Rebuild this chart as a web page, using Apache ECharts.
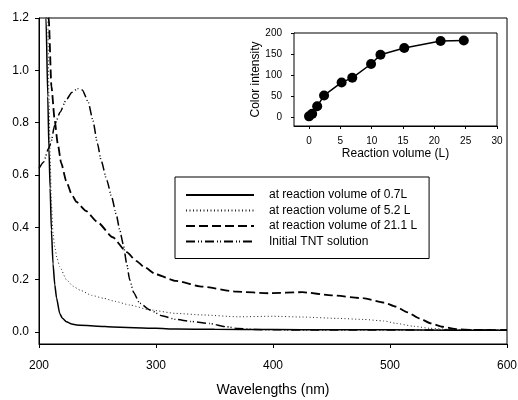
<!DOCTYPE html>
<html>
<head>
<meta charset="utf-8">
<script src="https://cdn.jsdelivr.net/npm/echarts@6/dist/echarts.min.js"></script>
<style>
  html, body { margin: 0; padding: 0; background: #fff; }
  #chart { width: 518px; height: 400px; }
</style>
</head>
<body>
<div id="chart"></div>
<script>
// main spectra: [wavelength nm, absorbance]
const vol07 = [[204, 1.6], [206, 1.2], [207.5, 0.9], [208.5, 0.7], [209.5, 0.55], [210.6, 0.39], [212, 0.26], [213.5, 0.18], [215, 0.13], [217.7, 0.071], [220, 0.052], [223.4, 0.039], [228, 0.03], [232, 0.027], [250, 0.022], [263, 0.019], [300, 0.014], [317, 0.011], [350, 0.01], [400, 0.009], [450, 0.008], [500, 0.008], [550, 0.007], [600, 0.007]];
const vol52 = [[205, 1.6], [207.5, 1.2], [208.5, 0.9], [209.5, 0.68], [210.6, 0.49], [212, 0.377], [213.4, 0.326], [215.5, 0.28], [217.7, 0.25], [223.4, 0.2], [229, 0.175], [235, 0.16], [245, 0.14], [255, 0.129], [265, 0.117], [277.5, 0.103], [295, 0.084], [317, 0.071], [340, 0.065], [370, 0.058], [400, 0.06], [425, 0.057], [455, 0.052], [477, 0.048], [495, 0.042], [505, 0.033], [520, 0.022], [534, 0.014], [550, 0.01], [562, 0.008], [600, 0.007]];
const vol211 = [[206.5, 1.6], [208.3, 1.2], [210.6, 0.94], [213.4, 0.81], [216, 0.72], [219, 0.645], [223.4, 0.575], [228, 0.525], [232, 0.497], [240, 0.463], [250, 0.42], [263, 0.362], [275, 0.305], [283, 0.272], [290, 0.248], [300, 0.22], [317, 0.195], [340, 0.173], [369, 0.154], [397, 0.148], [425, 0.152], [450, 0.14], [477, 0.129], [495, 0.112], [505, 0.097], [515, 0.075], [525, 0.052], [535, 0.033], [545, 0.02], [558, 0.01], [570, 0.008], [600, 0.007]];
const tntInitial = [[200, 0.625], [204, 0.65], [208, 0.7], [210, 0.72], [213.4, 0.79], [218, 0.84], [223, 0.885], [228, 0.915], [233, 0.93], [237, 0.925], [242, 0.88], [246, 0.81], [250, 0.72], [253, 0.657], [258, 0.58], [262, 0.517], [266, 0.45], [269, 0.39], [272, 0.335], [275, 0.26], [277.5, 0.2], [281, 0.15], [286, 0.11], [295, 0.084], [305, 0.062], [317, 0.048], [330, 0.04], [346, 0.032], [360, 0.02], [370, 0.013], [385, 0.009], [400, 0.008], [600, 0.007]];

// inset: color intensity vs reaction volume
const insetVolume = [0, 0.5, 1.3, 2.4, 5.2, 6.9, 9.9, 11.4, 15.2, 21.0, 24.7];
const insetIntensity = [1, 7, 25, 51, 82, 93, 126, 148, 164, 181, 182];

const yTicks = [0, 0.2, 0.4, 0.6, 0.8, 1.0, 1.2];
const insetXTicks = [0, 5, 10, 15, 20, 25, 30];
const insetYTicks = [0, 50, 100, 150, 200];

const font = 'Liberation Sans, Arial, sans-serif';
const chart = echarts.init(document.getElementById('chart'));

const axisCommon = {
  axisLine: { onZero: false, lineStyle: { color: '#000', width: 1 } },
  axisTick: { inside: false, length: 4, lineStyle: { color: '#000' } },
  splitLine: { show: false }
};

chart.setOption({
  animation: false,
  backgroundColor: '#fff',
  grid: [
    { left: 39, top: 18, right: 11, bottom: 56, outerBoundsMode: 'none', show: true, borderColor: '#000', borderWidth: 1, backgroundColor: '#fff' },
    { left: 294, top: 33, width: 203, height: 93, outerBoundsMode: 'none', show: true, borderColor: '#000', borderWidth: 1, backgroundColor: '#fff', z: 5 }
  ],
  legend: {
    data: ['at reaction volume of 0.7L', 'at reaction volume of 5.2 L', 'at reaction volume of 21.1 L', 'Initial TNT solution'],
    orient: 'vertical',
    left: 175,
    top: 177,
    padding: [12, 12, 11, 10],
    itemWidth: 68,
    itemHeight: 10,
    itemGap: 3.5,
    borderColor: '#000',
    borderWidth: 1,
    backgroundColor: '#fff',
    itemStyle: { opacity: 0 },
    textStyle: { fontFamily: font, fontSize: 12, color: '#000', padding: [0, 0, 0, 10] }
  },
  xAxis: [
    Object.assign({}, axisCommon, {
      gridIndex: 0, type: 'value', min: 200, max: 600, interval: 100,
      name: 'Wavelengths (nm)', nameLocation: 'middle', nameGap: 39,
      nameTextStyle: { fontFamily: font, fontSize: 14, color: '#000' },
      axisLabel: { fontFamily: font, fontSize: 12, color: '#000', margin: 16 }
    }),
    Object.assign({}, axisCommon, {
      gridIndex: 1, type: 'value', min: -2.4, max: 30,
      name: 'Reaction volume (L)', nameLocation: 'middle', nameGap: 22,
      nameTextStyle: { fontFamily: font, fontSize: 12, color: '#000' },
      axisTick: { length: 3, lineStyle: { color: '#000' }, customValues: insetXTicks },
      axisLabel: { fontFamily: font, fontSize: 10, color: '#000', margin: 10, customValues: insetXTicks }
    })
  ],
  yAxis: [
    Object.assign({}, axisCommon, {
      gridIndex: 0, type: 'value', min: -0.046, max: 1.2,
      axisTick: { length: 4, lineStyle: { color: '#000' }, customValues: yTicks },
      axisLabel: { fontFamily: font, fontSize: 12, color: '#000', margin: 10, customValues: yTicks, formatter: v => v.toFixed(1) }
    }),
    Object.assign({}, axisCommon, {
      gridIndex: 1, type: 'value', min: -22, max: 200,
      name: 'Color intensity', nameLocation: 'middle', nameGap: 28,
      nameTextStyle: { fontFamily: font, fontSize: 12, color: '#000' },
      axisTick: { length: 3, lineStyle: { color: '#000' }, customValues: insetYTicks },
      axisLabel: { fontFamily: font, fontSize: 10, color: '#000', margin: 12, customValues: insetYTicks }
    })
  ],
  series: [
    {
      name: 'at reaction volume of 0.7L', type: 'line', xAxisIndex: 0, yAxisIndex: 0,
      data: vol07, symbol: 'none', smooth: 0.2, smoothMonotone: 'x',
      itemStyle: { color: '#000' },
      lineStyle: { color: '#000', width: 1.5, type: 'solid' }
    },
    {
      name: 'at reaction volume of 5.2 L', type: 'line', xAxisIndex: 0, yAxisIndex: 0,
      data: vol52, symbol: 'none', smooth: 0.2, smoothMonotone: 'x',
      itemStyle: { color: '#000' },
      lineStyle: { color: '#222', width: 1, type: [1, 2.5] }
    },
    {
      name: 'at reaction volume of 21.1 L', type: 'line', xAxisIndex: 0, yAxisIndex: 0,
      data: vol211, symbol: 'none', smooth: 0.2, smoothMonotone: 'x',
      itemStyle: { color: '#000' },
      lineStyle: { color: '#000', width: 1.8, type: [9, 4] }
    },
    {
      name: 'Initial TNT solution', type: 'line', xAxisIndex: 0, yAxisIndex: 0,
      data: tntInitial, symbol: 'none', smooth: 0.2, smoothMonotone: 'x',
      itemStyle: { color: '#000' },
      lineStyle: { color: '#000', width: 1.5, type: [9, 3, 1, 2, 1, 3] }
    },
    {
      name: 'inset', type: 'line', xAxisIndex: 1, yAxisIndex: 1, z: 6,
      data: insetVolume.map((v, i) => [v, insetIntensity[i]]),
      symbol: 'circle', symbolSize: 10,
      itemStyle: { color: '#000' },
      lineStyle: { color: '#000', width: 1.5 }
    }
  ]
});
</script>
</body>
</html>
